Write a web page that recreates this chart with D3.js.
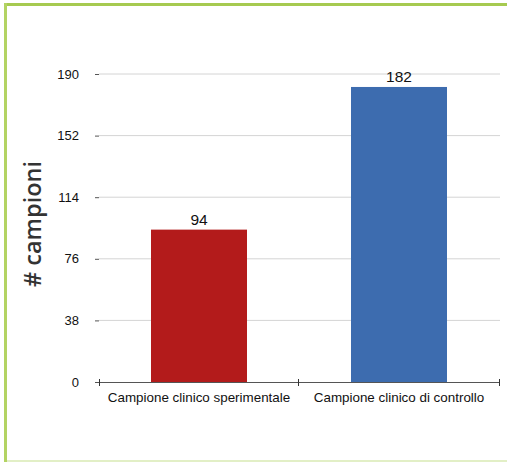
<!DOCTYPE html>
<html>
<head>
<meta charset="utf-8">
<script src="https://cdn.jsdelivr.net/npm/d3@7"></script>
<style>
  html, body { margin: 0; padding: 0; background: #fff; }
  svg { display: block; }
</style>
</head>
<body>
<svg id="chart" width="507" height="462"></svg>
<script>
// Sample counts per clinical group
const categories = ["Campione clinico sperimentale", "Campione clinico di controllo"];
const values = [94, 182];
const barColors = ["#b31b1b", "#3d6caf"];
const yTicks = [0, 38, 76, 114, 152, 190];

const svg = d3.select("#chart");

// Green frame: top and left edges, faint line at the bottom
svg.append("rect").attr("x", 4).attr("y", 3).attr("width", 503).attr("height", 3).attr("fill", "#a6ca50");
svg.append("rect").attr("x", 4).attr("y", 3).attr("width", 3).attr("height", 459).attr("fill", "#b3d363");
svg.append("rect").attr("x", 7).attr("y", 460).attr("width", 500).attr("height", 2).attr("fill", "#e2efc6");

const x = d3.scaleBand().domain(categories).range([99, 499]).paddingInner(0).paddingOuter(0);
const y = d3.scaleLinear().domain([0, 190]).range([382, 74]);

// Horizontal gridlines
svg.append("g")
  .selectAll("line")
  .data(yTicks.filter(d => d > 0))
  .join("line")
  .attr("x1", 99).attr("x2", 500)
  .attr("y1", d => y(d)).attr("y2", d => y(d))
  .attr("stroke", "#d4d4d4").attr("stroke-width", 1);

// Y axis: ticks and labels, no domain line
const yAxis = svg.append("g").attr("transform", "translate(99,0)")
  .call(d3.axisLeft(y).tickValues(yTicks).tickSize(4).tickPadding(16));
yAxis.select(".domain").remove();
yAxis.selectAll(".tick line").attr("stroke", "#555");
yAxis.selectAll(".tick text")
  .attr("font-family", "Liberation Sans, Arial, sans-serif")
  .attr("font-size", 13).attr("fill", "#111");

// Bars
const barW = 96;
svg.append("g")
  .selectAll("rect")
  .data(values)
  .join("rect")
  .attr("x", (d, i) => x(categories[i]) + (x.bandwidth() - barW) / 2)
  .attr("y", d => y(d))
  .attr("width", barW)
  .attr("height", d => y(0) - y(d))
  .attr("fill", (d, i) => barColors[i]);

// Value labels
svg.append("g")
  .selectAll("text")
  .data(values)
  .join("text")
  .attr("x", (d, i) => x(categories[i]) + x.bandwidth() / 2)
  .attr("y", d => y(d) - 5)
  .attr("text-anchor", "middle")
  .attr("font-family", "Liberation Sans, Arial, sans-serif")
  .attr("font-size", 15.5).attr("fill", "#111")
  .text(d => d);

// X axis
const xAxis = svg.append("g").attr("transform", "translate(0,382)")
  .call(d3.axisBottom(x).tickSize(0).tickPadding(10));
xAxis.select(".domain").attr("stroke", "#555").attr("d", "M95,0.5H500");
xAxis.selectAll(".tick text")
  .attr("font-family", "Liberation Sans, Arial, sans-serif")
  .attr("font-size", 13.4).attr("fill", "#111");
svg.append("g")
  .selectAll("line")
  .data([99, 298, 499])
  .join("line")
  .attr("x1", d => d + 0.5).attr("x2", d => d + 0.5)
  .attr("y1", 379).attr("y2", 386)
  .attr("stroke", "#333");

// Y axis title
svg.append("text")
  .attr("transform", "translate(41,224) rotate(-90)")
  .attr("text-anchor", "middle")
  .attr("font-family", "Open Sans, Noto Sans, sans-serif")
  .attr("font-size", 23.5).attr("font-weight", 600).attr("fill", "#333")
  .text("# campioni");
</script>
</body>
</html>
